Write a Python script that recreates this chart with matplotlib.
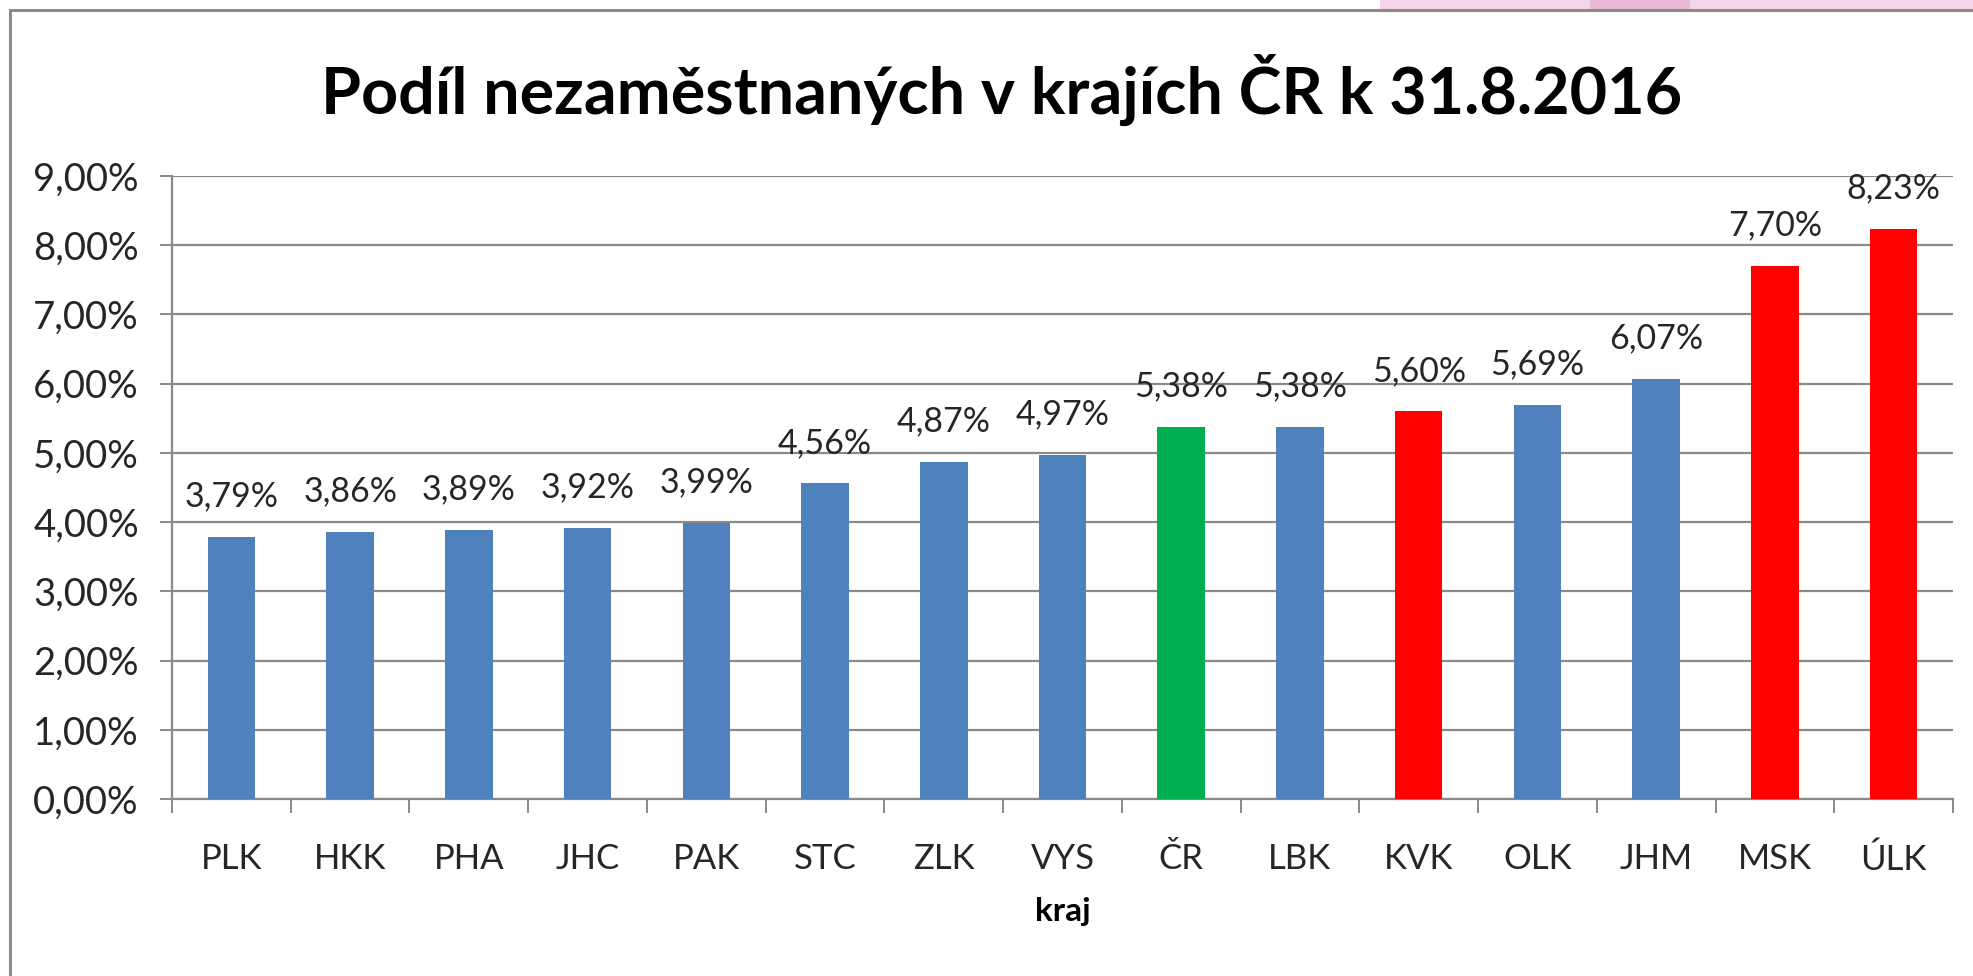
import matplotlib
matplotlib.use('Agg')
import matplotlib.pyplot as plt
from matplotlib.patches import Rectangle
from matplotlib.ticker import FuncFormatter, MultipleLocator
import numpy as np

# Data
kraje = ['PLK', 'HKK', 'PHA', 'JHC', 'PAK', 'STC', 'ZLK', 'VYS',
         'ČR', 'LBK', 'KVK', 'OLK', 'JHM', 'MSK', 'ÚLK']
podil = [3.79, 3.86, 3.89, 3.92, 3.99, 4.56, 4.87, 4.97,
         5.38, 5.38, 5.60, 5.69, 6.07, 7.70, 8.23]
barvy = ['#4F81BD'] * 8 + ['#00B050', '#4F81BD', '#FF0000',
                           '#4F81BD', '#4F81BD', '#FF0000', '#FF0000']

plt.rcParams['font.family'] = ['Lato', 'DejaVu Sans']

W, H = 1974, 976
fig = plt.figure(figsize=(W / 100, H / 100), dpi=100)
fig.patch.set_facecolor('white')

# pinkish strip above the chart frame (top right)
fig.patches.append(Rectangle((1380 / W, 1 - 10 / H), 1 - 1380 / W, 10 / H,
                             transform=fig.transFigure, facecolor='#F3D6E8',
                             edgecolor='none'))
fig.patches.append(Rectangle((1590 / W, 1 - 10 / H), 100 / W, 10 / H,
                             transform=fig.transFigure, facecolor='#EBB9D6',
                             edgecolor='none'))
# chart frame
fig.patches.append(Rectangle((10 / W, -0.05), 1.1, 1 - 10 / H + 0.05,
                             transform=fig.transFigure, facecolor='none',
                             edgecolor='#8A8A8A', linewidth=2.2))

left, right, top, bottom = 172, 1953, 176, 799
ax = fig.add_axes([left / W, 1 - bottom / H, (right - left) / W, (bottom - top) / H])

x = np.arange(len(kraje))
ax.bar(x, podil, width=0.40, color=barvy, zorder=3)

# value labels above the bars
for xi, v in zip(x, podil):
    ax.annotate(f'{v:.2f}%'.replace('.', ','), (xi, v), xytext=(0, 22),
                textcoords='offset points', ha='center', va='baseline',
                fontsize=24.5, color='#262626')

ax.set_xlim(-0.5, len(kraje) - 0.5)
ax.set_ylim(0, 9)
ax.yaxis.set_major_locator(MultipleLocator(1))
ax.yaxis.set_major_formatter(FuncFormatter(lambda v, p: f'{v:.2f}%'.replace('.', ',')))
ax.grid(axis='y', color='#8A8A8A', linewidth=1.6, zorder=0)

ax.set_xticks(x)
ax.set_xticklabels(kraje)
ax.set_xticks(np.arange(-0.5, len(kraje), 1), minor=True)
ax.tick_params(axis='x', which='major', length=0, pad=32, labelsize=25, labelcolor='#262626')
ax.tick_params(axis='x', which='minor', length=10, width=1.4, color='#8A8A8A')
ax.tick_params(axis='y', length=9, width=1.4, color='#8A8A8A', pad=15,
               labelsize=27.5, labelcolor='#262626')

for s in ['top', 'right']:
    ax.spines[s].set_visible(False)
for s in ['left', 'bottom']:
    ax.spines[s].set_color('#8A8A8A')
    ax.spines[s].set_linewidth(1.6)

ax.set_xlabel('kraj', fontsize=24, fontweight='bold', labelpad=15)

fig.text(1002 / W, 1 - 90 / H, 'Podíl nezaměstnaných v krajích ČR k 31.8.2016',
         ha='center', va='center', fontsize=46.5, fontweight='bold', color='black')

fig.savefig('out.png', dpi=100)
